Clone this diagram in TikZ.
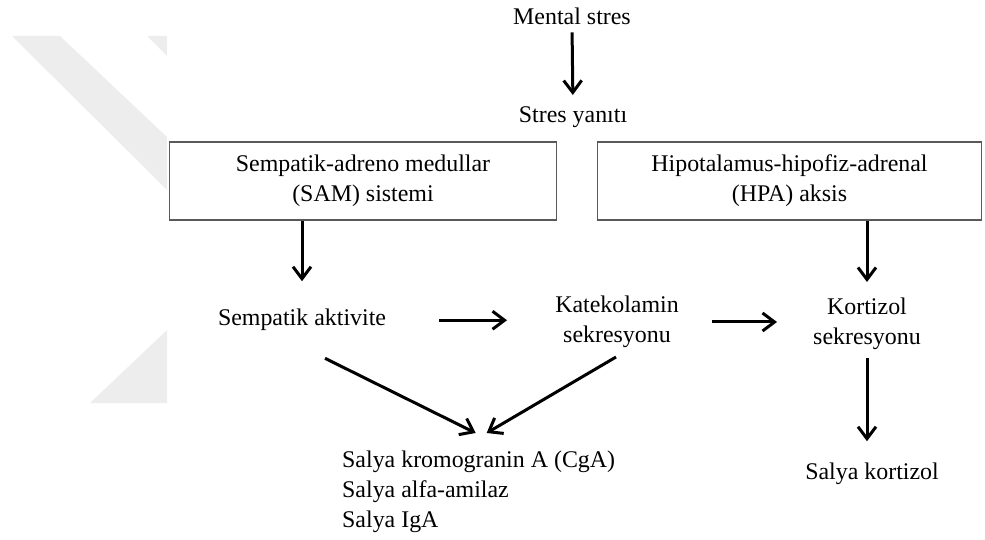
\documentclass[tikz,border=0pt]{standalone}
\usepackage{fontspec}
\setmainfont{Liberation Serif}
\usepackage{tikz}
\usetikzlibrary{calc, arrows.meta}

\begin{document}
\begin{tikzpicture}[x=1bp, y=-1bp,
		txt/.style = {inner sep = 0pt, font = \fontsize{24}{30}\selectfont},
		sysbox/.style = {txt, draw = black!65, line width = 1.6bp, align = center, minimum height = 78bp},
		arr/.style = {line width = 3bp, -{Straight Barb[length = 12bp, width = 18bp]}}]
		
		\useasboundingbox (0,0) rectangle (985,540);
		
		\begin{scope}[black!7]
			\fill (12,36) -- (60,36) -- (167,137) -- (167,190) -- cycle;
			\fill (147,36) -- (167,36) -- (167,56) -- cycle;
			\fill (90,403) -- (167,330) -- (167,403) -- cycle;
		\end{scope}
		
		\node [txt, anchor = base] (mental) at (572,25) {Mental stres};
		\node [txt, anchor = base] (yanit) at (573,123) {Stres yanıtı};
		
		\node [sysbox, minimum width = 387bp] (sam) at (363,181) {Sempatik-adreno medullar\\(SAM) sistemi};
		\node [sysbox, minimum width = 384bp] (hpa) at (789.5,181) {Hipotalamus-hipofiz-adrenal\\(HPA) aksis};
		
		\node [txt, anchor = base] (aktivite) at (302,326) {Sempatik aktivite};
		\node [txt, align = center] (katekol) at (617,322) {Katekolamin\\sekresyonu};
		\node [txt, align = center] (kortsek) at (867,324) {Kortizol\\sekresyonu};
		
		\node [txt, anchor = base] (salkort) at (872,479) {Salya kortizol};
		\node [txt, align = left, anchor = north west] (salya) at (342,451) {Salya kromogranin A (CgA)\\Salya alfa-amilaz\\Salya IgA};
		
		\begin{scope}[arr]
			\draw [shorten < = 7bp, shorten > = 12bp] (mental.south) -- (yanit.north);
			\draw [shorten > = 28bp] (sam.south -| aktivite.north) -- (aktivite.north);
			\draw [shorten > = 16bp] (hpa.south -| kortsek.north) -- (kortsek.north);
			\draw [shorten < = 53bp, shorten > = 48bp] (aktivite.east) -- (aktivite.east -| katekol.west);
			\draw [shorten < = 33bp, shorten > = 36bp] (katekol.east) -- (katekol.east -| kortsek.west);
			\draw [shorten < = 8bp, shorten > = 21bp] (kortsek.south) -- (kortsek.south |- salkort.north);
			\draw ($ (aktivite.south) + (23,27) $) -- ($ (salya.north) + (-3,-18) $);
			\draw ($ (katekol.south) + (-1,9) $) -- ($ (salya.north) + (8,-18) $);
		\end{scope}
	\end{tikzpicture}
\end{document}
